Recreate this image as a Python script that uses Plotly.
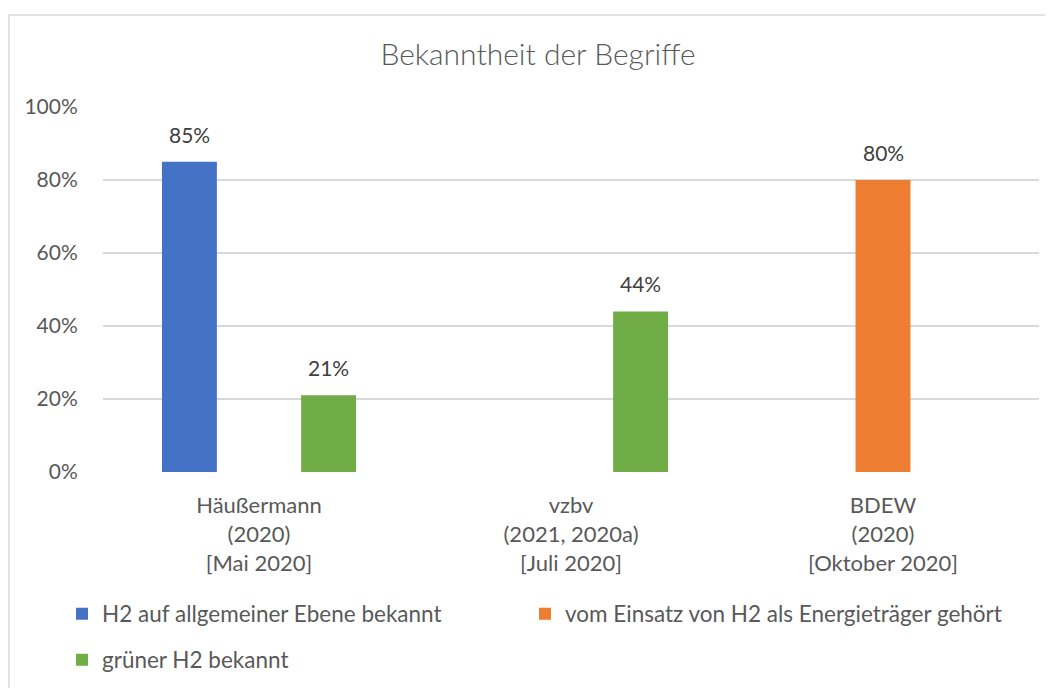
import plotly.graph_objects as go

categories = ["Häußermann<br>(2020)<br>[Mai 2020]",
              "vzbv<br>(2021, 2020a)<br>[Juli 2020]",
              "BDEW<br>(2020)<br>[Oktober 2020]"]
series_names = ["H2 auf allgemeiner Ebene bekannt",
                "vom Einsatz von H2 als Energieträger gehört",
                "grüner H2 bekannt"]
blue_vals = [0.85, None, None]
orange_vals = [None, None, 0.80]
green_vals = [0.21, 0.44, None]
y_ticks = [0, 0.2, 0.4, 0.6, 0.8, 1.0]
y_tick_labels = ["0%", "20%", "40%", "60%", "80%", "100%"]

colors = ["#4472C4", "#ED7D31", "#70AD47"]
series_vals = [blue_vals, orange_vals, green_vals]
slot = 0.223
width = 0.176
centers = [-slot, 0.0, slot]

FONT = "Lato"
W, H = 1045, 680
fig = go.Figure()
xs = list(range(len(categories)))
legends = ["legend", "legend2", "legend3"]
annotations = []
for k, (name, vals, col) in enumerate(zip(series_names, series_vals, colors)):
    fig.add_trace(go.Bar(
        x=xs, y=vals, name=name, marker=dict(color=col, line=dict(width=0)),
        width=width, offset=centers[k] - width / 2,
        legend=legends[k], showlegend=True,
    ))
    for i, v in enumerate(vals):
        if v is None:
            continue
        annotations.append(dict(
            x=i + centers[k], y=v, xref="x", yref="y", text=f"{round(v*100)}%",
            showarrow=False, yanchor="bottom", yshift=13,
            font=dict(family=FONT, size=21, color="#404040"),
        ))

fig.update_layout(
    width=W, height=H,
    margin=dict(l=95, r=14, t=99, b=216, autoexpand=False),
    paper_bgcolor="white", plot_bgcolor="white",
    barmode="overlay",
    title=dict(text="Bekanntheit der Begriffe", x=530 / W, xref="container",
               xanchor="center", y=1 - 46 / H, yref="container", yanchor="middle",
               font=dict(family=FONT, size=30, color="#595959", weight=300)),
    xaxis=dict(range=[-0.5, 2.5], tickvals=xs, ticktext=categories,
               showgrid=False, zeroline=False, showline=False,
               ticks="outside", ticklen=14, tickcolor="rgba(0,0,0,0)",
               tickfont=dict(family=FONT, size=22, color="#595959")),
    yaxis=dict(range=[0, 1], tickvals=y_ticks, ticktext=y_tick_labels,
               showgrid=True, gridcolor="#D9D9D9", gridwidth=1.5,
               zeroline=False, showline=False,
               ticks="outside", ticklen=20, tickcolor="rgba(0,0,0,0)",
               tickfont=dict(family=FONT, size=21, color="#595959")),
    annotations=annotations,
    shapes=[dict(type="rect", xref="paper", yref="paper",
                 x0=(9 - 103) / 936, x1=1.2, y0=-0.8, y1=(472 - 15) / 365,
                 line=dict(color="#D9D9D9", width=1.5), fillcolor="rgba(0,0,0,0)",
                 layer="below")],
)
leg_font = dict(family=FONT, size=22.5, color="#595959")
fig.update_layout(
    legend=dict(x=(62 - 103) / 936, y=(472 - 614) / 365, xanchor="left", yanchor="middle",
                font=leg_font, bgcolor="rgba(0,0,0,0)"),
    legend2=dict(x=(525 - 103) / 936, y=(472 - 614) / 365, xanchor="left", yanchor="middle",
                 font=leg_font, bgcolor="rgba(0,0,0,0)"),
    legend3=dict(x=(62 - 103) / 936, y=(472 - 660) / 365, xanchor="left", yanchor="middle",
                 font=leg_font, bgcolor="rgba(0,0,0,0)"),
)

fig.write_html("out.html")
